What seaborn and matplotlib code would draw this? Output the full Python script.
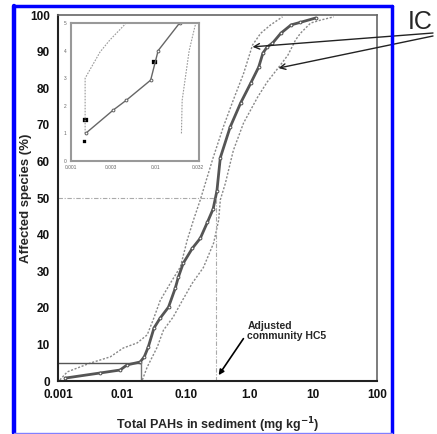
import numpy as np
import pandas as pd
import seaborn as sns
import matplotlib.pyplot as plt
from matplotlib.lines import Line2D

# median SSD curve (mg/kg, % affected)
med_x = [0.0013, 0.0046, 0.0094, 0.0121, 0.0194, 0.0225, 0.026, 0.032, 0.040, 0.054,
         0.069, 0.077, 0.092, 0.128, 0.17, 0.22, 0.27, 0.31, 0.35, 0.5,
         0.73, 1.05, 1.4, 1.63, 1.9, 2.3, 3.1, 4.5, 6.3, 11]
med_y = [0.8, 2.2, 3, 4.4, 5.2, 6.6, 9.3, 14.5, 17.2, 20.2,
         25.4, 28.4, 32.2, 36.3, 39, 43.4, 47, 52, 61, 69.4,
         76, 81.4, 85.8, 89.6, 91.3, 92.3, 95, 97.3, 98, 99.2]

# confidence bounds
lo_x = [0.00107, 0.0014, 0.0032, 0.0066, 0.0105, 0.0174, 0.025, 0.031, 0.040, 0.058,
        0.083, 0.106, 0.133, 0.17, 0.27, 0.39, 0.56, 0.81, 1.12, 1.5, 2.15, 3.3]
lo_y = [0.3, 2.5, 4.9, 6.6, 9, 10.4, 12.6, 16.7, 22, 26.8,
        31.2, 38.5, 44, 49.5, 61, 69.4, 76.8, 84, 91.8, 95, 97.3, 99.5]
hi_x = [0.021, 0.025, 0.036, 0.045, 0.064, 0.089, 0.128, 0.19, 0.275, 0.33, 0.35, 0.42,
        0.56, 0.81, 1.35, 1.9, 2.9, 4.0, 5.3, 6.3, 9.1, 13, 21]
hi_y = [0.3, 3.8, 9.3, 13.9, 17.5, 22, 26.8, 31, 37.7, 44, 49.5, 54,
        63, 70.5, 77.6, 81.7, 85.8, 89, 93.2, 95, 97.8, 98.6, 99.5]

hc5 = 0.02
hc50 = 0.3

# inset (zoom of lowest 5 %)
in_med_x = [0.00149, 0.00318, 0.00452, 0.0088, 0.0108, 0.0194]
in_med_y = [1, 1.85, 2.2, 2.93, 4.0, 5]
in_lo_x = [0.00147, 0.00147, 0.00221, 0.00288, 0.00452]
in_lo_y = [1, 3, 3.95, 4.38, 5]
in_hi_x = [0.0204, 0.0208, 0.0252, 0.0296, 0.031]
in_hi_y = [1, 2.2, 4, 4.9, 5]
in_pts_x = [0.00149, 0.00145, 0.0098]
in_pts_y = [1.49, 0.72, 3.59]

xticks = [0.001, 0.01, 0.1, 1, 10, 100]
xlabels = ['0.001', '0.01', '0.10', '1.0', '10', '100']
in_xticks = [0.001, 0.003, 0.01, 0.032]
in_xlabels = ['0.001', '0.003', '0.01', '0.032']

sns.set_style("white")
plt.rcParams['font.family'] = ['Liberation Sans', 'DejaVu Sans']

fig = plt.figure(figsize=(4.37, 4.34), dpi=100)
ax = fig.add_axes([0.1327, 0.1221, 0.73, 0.8433])

sns.lineplot(x=lo_x, y=lo_y, ax=ax, sort=False, estimator=None, color='#888888',
             linestyle=(0, (1.5, 1.2)), linewidth=1)
sns.lineplot(x=hi_x, y=hi_y, ax=ax, sort=False, estimator=None, color='#888888',
             linestyle=(0, (1.5, 1.2)), linewidth=1)
sns.lineplot(x=med_x, y=med_y, ax=ax, sort=False, estimator=None, color='#555555',
             linewidth=2, marker='o', markersize=2, markeredgecolor='#555555',
             markerfacecolor='white')

# HC5 and HC50 guide lines
ax.plot([0.001, hc5], [5, 5], color='#555555', lw=1)
ax.plot([hc5, hc5], [0, 5], color='#777777', lw=1)
ax.plot([0.001, hc50], [50, 50], color='#aaaaaa', lw=0.8, linestyle=(0, (4, 1.5, 1, 1.5)))
ax.plot([hc50, hc50], [0, 50], color='#aaaaaa', lw=0.8, linestyle=(0, (4, 1.5, 1, 1.5)))

ax.set_xscale('log')
ax.set_xlim(0.001, 100)
ax.set_ylim(0, 100)
ax.set_xticks(xticks)
ax.set_xticklabels(xlabels)
ax.set_yticks(range(0, 101, 10))
ax.minorticks_off()
ax.tick_params(direction='out', length=4, width=1.2, color='#222222', labelsize=8.5, pad=2,
               labelcolor='#111111')
for lab in ax.get_xticklabels() + ax.get_yticklabels():
    lab.set_fontweight('bold')
for s in ['left', 'bottom']:
    ax.spines[s].set_color('#222222')
    ax.spines[s].set_linewidth(1.5)
for s in ['top', 'right']:
    ax.spines[s].set_color('#666666')
    ax.spines[s].set_linewidth(1.2)
ax.set_xlabel('Total PAHs in sediment (mg kg$^{\\mathbf{-1}}$)', fontsize=9, fontweight='bold')
ax.set_ylabel('Affected species (%)', fontsize=9.5, fontweight='bold')
ax.xaxis.set_label_coords(0.5, -0.093)
ax.yaxis.set_label_coords(-0.083, 0.5)

ax.annotate('Adjusted\ncommunity HC5', xy=(0.33, 1.6), xytext=(0.93, 16.5),
            fontsize=7.5, fontweight='bold', va='top', ha='left', linespacing=1.0,
            arrowprops=dict(arrowstyle='-|>', color='black', lw=1.2,
                            shrinkA=0, shrinkB=0, relpos=(-0.05, 0.1)))

# IC arrows
ax.annotate('', xy=(1.12, 91.3), xytext=(433, 401), textcoords='figure pixels',
            arrowprops=dict(arrowstyle='->', color='#222222', lw=1, shrinkA=0, shrinkB=0),
            annotation_clip=False)
ax.annotate('', xy=(2.86, 85.5), xytext=(433, 398), textcoords='figure pixels',
            arrowprops=dict(arrowstyle='->', color='#222222', lw=1, shrinkA=0, shrinkB=0),
            annotation_clip=False)
fig.text(420 / 437, 1 - 22 / 434, 'IC', fontsize=18, ha='center', va='center')

# inset
ins = fig.add_axes([0.1625, 0.629, 0.293, 0.318])
sns.lineplot(x=in_lo_x, y=in_lo_y, ax=ins, sort=False, estimator=None, color='#999999',
             linestyle=(0, (1.5, 1.2)), linewidth=0.8)
sns.lineplot(x=in_hi_x, y=in_hi_y, ax=ins, sort=False, estimator=None, color='#999999',
             linestyle=(0, (1.5, 1.2)), linewidth=0.8)
sns.lineplot(x=in_med_x, y=in_med_y, ax=ins, sort=False, estimator=None, color='#666666',
             linewidth=1, marker='o', markersize=2, markerfacecolor='white',
             markeredgecolor='#666666')
sns.scatterplot(x=in_pts_x, y=in_pts_y, ax=ins, marker='s', color='black', s=[10, 5, 10],
                edgecolor='black')
ins.set_xscale('log')
ins.set_xlim(0.00108, 0.033)
ins.set_ylim(0, 5)
ins.set_xticks(in_xticks)
ins.set_xticklabels(in_xlabels)
ins.set_yticks(range(0, 6))
ins.minorticks_off()
ins.tick_params(direction='out', length=2, width=0.6, color='#999999', labelsize=3.5,
                labelcolor='#666666', pad=1)
for s in ins.spines.values():
    s.set_color('#999999')
    s.set_linewidth(1.5)

# blue frame around the figure
fig.add_artist(Line2D([14 / 437, 14 / 437], [1 - 6 / 434, 1 - 433 / 434], color='#0000ff', lw=3.2))
fig.add_artist(Line2D([14 / 437, 392 / 437], [1 - 6 / 434, 1 - 6 / 434], color='#0000ff', lw=2.5))
fig.add_artist(Line2D([392 / 437, 392 / 437], [1 - 6 / 434, 1 - 433 / 434], color='#0000ff', lw=2.5))
fig.add_artist(Line2D([14 / 437, 392 / 437], [1 - 432.5 / 434, 1 - 432.5 / 434], color='#8080ff', lw=1))

fig.savefig('out.png', dpi=100)
